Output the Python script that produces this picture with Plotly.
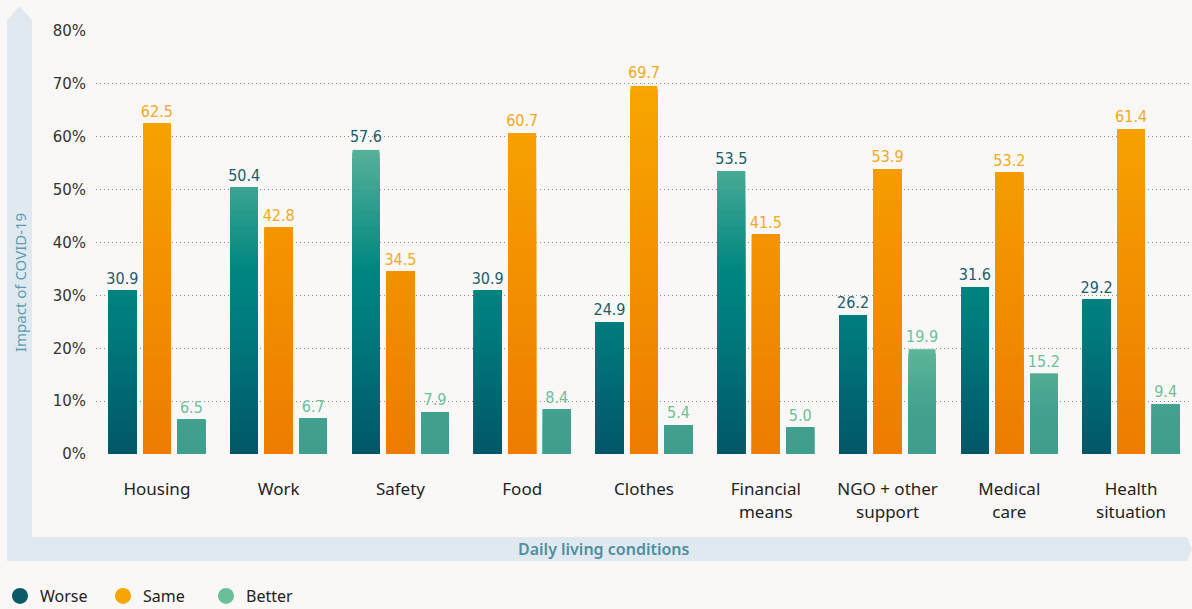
import math
import plotly.graph_objects as go

# ---------------- data ----------------
categories = ["Housing", "Work", "Safety", "Food", "Clothes",
              "Financial<br>means", "NGO + other<br>support", "Medical<br>care",
              "Health<br>situation"]
worse = [30.9, 50.4, 57.6, 30.9, 24.9, 53.5, 26.2, 31.6, 29.2]
same = [62.5, 42.8, 34.5, 60.7, 69.7, 41.5, 53.9, 53.2, 61.4]
better = [6.5, 6.7, 7.9, 8.4, 5.4, 5.0, 19.9, 15.2, 9.4]
series_names = ["Worse", "Same", "Better"]
y_ticks = [0, 10, 20, 30, 40, 50, 60, 70, 80]
y_tick_labels = ["0%", "10%", "20%", "30%", "40%", "50%", "60%", "70%", "80%"]

# ---------------- styles ----------------
W, H = 1192, 609
BG = "#f9f8f6"
BAND = "#e1e9f0"
label_colors = {"Worse": "#1a5d6d", "Same": "#f5a81c", "Better": "#6cc09a"}
legend_colors = {"Worse": "#0b5a69", "Same": "#f6a600", "Better": "#6bbf98"}
grad_stops = {
    "Worse": [(0, (0, 86, 104)), (25, (0, 124, 126)), (35, (0, 134, 128)), (60, (96, 182, 156))],
    "Same": [(0, (237, 124, 0)), (70, (248, 166, 0))],
    "Better": [(0, (64, 158, 142)), (8, (66, 160, 142)), (20, (94, 182, 152))],
}


def grad(name, y):
    stops = grad_stops[name]
    if y <= stops[0][0]:
        c = stops[0][1]
    elif y >= stops[-1][0]:
        c = stops[-1][1]
    else:
        for (y0, c0), (y1, c1) in zip(stops[:-1], stops[1:]):
            if y0 <= y <= y1:
                t = (y - y0) / (y1 - y0)
                c = tuple(c0[i] + (c1[i] - c0[i]) * t for i in range(3))
                break
    return "rgb(%d,%d,%d)" % tuple(round(v) for v in c)


fig = go.Figure()

data = {"Worse": worse, "Same": same, "Better": better}
for name in series_names:
    vals = data[name]
    top = math.ceil(max(vals))
    for k in range(top, 0, -1):
        ys = [min(v, k) for v in vals]
        first = k == top
        fig.add_trace(go.Bar(
            x=categories, y=ys, offsetgroup=name, showlegend=False,
            marker=dict(color=grad(name, k - 0.5),
                        line=dict(width=1 if first else 0,
                                  color="rgba(255,255,255,0.7)")),
            text=[f"{v:.1f}" for v in vals] if first else None,
            textposition="outside" if first else "none",
            textfont=dict(family="Liberation Sans Narrow, DejaVu Sans Condensed, Roboto Condensed, Roboto",
                          size=16, color=label_colors[name]),
            constraintext="none", cliponaxis=False, hoverinfo="skip",
        ))

for name in series_names:
    fig.add_trace(go.Scatter(
        x=[None], y=[None], mode="markers", name=name,
        marker=dict(symbol="circle", size=18, color=legend_colors[name]),
    ))


def px(x):
    return x / W


def py(y):
    return 1 - y / H


pts = [(7, 561), (7, 20), (19.5, 6), (32, 20), (32, 537), (1187, 537),
       (1192, 549), (1187, 561)]
path = "M " + " L ".join(f"{px(x):.5f},{py(y):.5f}" for x, y in pts) + " Z"

fig.update_layout(
    width=W, height=H,
    paper_bgcolor=BG, plot_bgcolor=BG,
    margin=dict(l=0, r=0, t=0, b=0, autoexpand=False),
    barmode="group", bargap=0.15, bargroupgap=0.2,
    font=dict(family="Noto Sans", color="#222"),
    xaxis=dict(domain=[96 / W, 1], range=[-0.5, 8.5], showgrid=False,
               showline=False, zeroline=False, automargin=False,
               ticks="outside", ticklen=20, tickcolor="rgba(0,0,0,0)",
               tickfont=dict(family="Noto Sans", size=17, color="#222")),
    yaxis=dict(domain=[py(454), py(31)], range=[0, 80], tickmode="array",
               tickvals=y_ticks, ticktext=y_tick_labels,
               showgrid=True, gridcolor="#8a8a8a", automargin=False,
               griddash="1px,3px", gridwidth=1, zeroline=False, showline=False,
               ticks="outside", ticklen=6, tickcolor="rgba(0,0,0,0)",
               tickfont=dict(family="DejaVu Sans", size=15, color="#333")),
    shapes=[dict(type="path", path=path, xref="paper", yref="paper",
                 fillcolor=BAND, line=dict(width=0), layer="below")],
    annotations=[
        dict(text="Impact of COVID-19", x=px(20), y=py(283), xref="paper",
             yref="paper", textangle=-90, showarrow=False,
             xanchor="center", yanchor="middle",
             font=dict(family="Noto Sans", size=15, color="#5e9db0")),
        dict(text="Daily living conditions", x=px(604), y=py(549), xref="paper",
             yref="paper", showarrow=False, xanchor="center", yanchor="middle",
             font=dict(family="Noto Sans", size=16, color="#4d8ea2", weight=600)),
    ],
    legend=dict(orientation="h", x=0, xanchor="left", y=py(596),
                yanchor="middle", bgcolor="rgba(0,0,0,0)",
                font=dict(family="Noto Sans", size=16, color="#222"),
                itemwidth=30, entrywidth=58, entrywidthmode="pixels"),
)

fig.write_html("out.html", config={"displayModeBar": False},
               post_script="document.body.style.margin='0';document.body.style.overflow='hidden';")
